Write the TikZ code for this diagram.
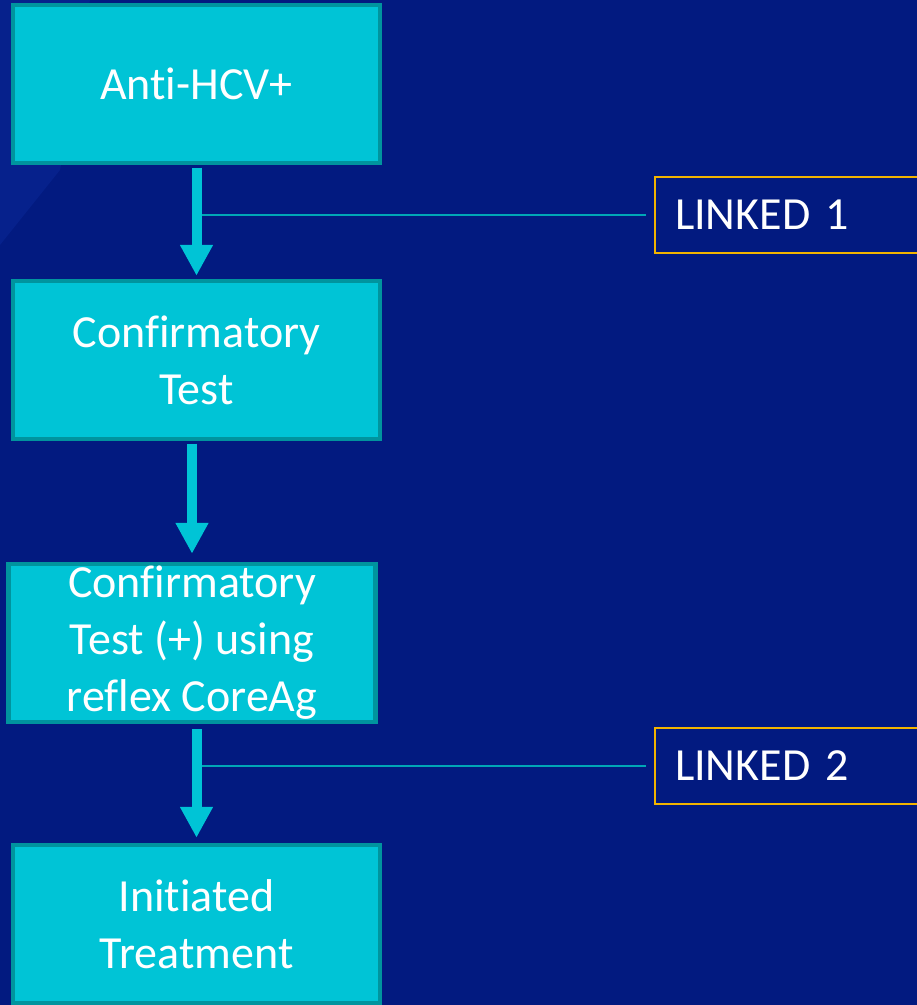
\documentclass[tikz,border=0pt]{standalone}
\usepackage{fontspec}
\setmainfont{Carlito}[Ligatures={NoCommon,NoContextual}]
\usetikzlibrary{arrows.meta}

\definecolor{bgblue}{HTML}{021A80}
\definecolor{bglight}{HTML}{0A2898}
\definecolor{boxfill}{HTML}{00C4D6}
\definecolor{boxline}{HTML}{00949E}
\definecolor{linkgold}{HTML}{F2B400}

\begin{document}
\begin{tikzpicture}[
    x=1pt, y=-1pt,
    % GLOBAL CFG
    font=\fontsize{46}{57}\selectfont,
    % Styles
    stage/.style={% For the cyan flow boxes
        rectangle,
        fill=boxfill,
        draw=boxline,
        line width=4.5pt,
        minimum width=367pt,
        minimum height=158pt,
        text=white,
        align=center,
        inner sep=0pt,
        },
    linked/.style={% For the gold outlined LINKED boxes
        rectangle,
        draw=linkgold,
        line width=2pt,
        anchor=west,
        minimum height=76pt,
        text width=280pt,
        inner xsep=20pt,
        align=left,
        text=white,
        },
    flow/.style={% Thick arrows between stages
        draw=boxfill,
        line width=10pt,
        -{Triangle[width=31pt,length=31pt]},
        },
    linkline/.style={% Thin lines to the LINKED boxes
        draw=boxfill!85!black,
        line width=2pt,
        },
    ]

% Background
    \fill[bgblue] (0,0) rectangle (917,1005);
    \fill[bglight, opacity=.5] (0,0) -- (90,0) -- (60,170) -- (0,245) -- cycle;
    \useasboundingbox (0,0) rectangle (917,1005);
    \clip (0,0) rectangle (917,1005);

% Draw the stages named b#
    \node [stage] (b1) at (196.5,84) {Anti-HCV+};
    \node [stage] (b2) at (196.5,360) {Confirmatory\\Test};
    \node [stage] (b3) at (192,643) {Confirmatory\\Test (+) using\\reflex CoreAg};
    \node [stage] (b4) at (196.5,924) {Initiated\\Treatment};

% Draw the LINKED boxes named l#
    \node [linked] (l1) at (654,215) {LINKED 1};
    \node [linked] (l2) at (654,766) {LINKED 2};

% Connect all.
    % thin lines first, the shafts cover their ends
    \draw [linkline, shorten <=8pt] (l1.west) -- (l1.west -| b1.south);
    \draw [linkline, shorten <=8pt] (l2.west) -- (l2.west -| b4.north);

    % arrows
    \draw [flow, shorten <=2.25pt, shorten >=3pt] (b1.south) -- (b2.north);
    \draw [flow, shorten <=2.25pt, shorten >=8pt] (b2.south -| b3.north) -- (b3.north);
    \draw [flow, shorten <=5pt, shorten >=5pt] (b3.south -| b4.north) -- (b4.north);
\end{tikzpicture}
\end{document}
